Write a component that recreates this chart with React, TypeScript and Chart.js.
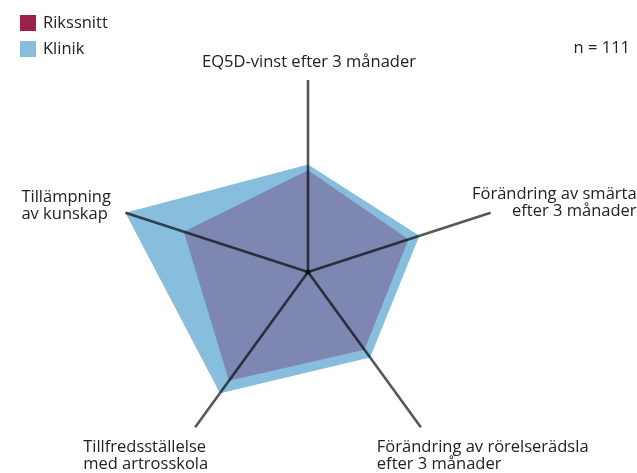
import React, { useEffect, useRef } from "react";
import { Chart, registerables } from "chart.js";

Chart.register(...registerables);

const axisLabels: string[][] = [
  ["EQ5D-vinst efter 3 månader"],
  ["Förändring av smärta", "efter 3 månader"],
  ["Förändring av rörelserädsla", "efter 3 månader"],
  ["Tillfredsställelse", "med artrosskola"],
  ["Tillämpning", "av kunskap"],
];
const seriesNames = ["Rikssnitt", "Klinik"];
const rikssnitt = [53, 55, 50, 70, 68];
const klinik = [56, 61, 55, 78, 100];
const nText = "n = 111";

const FONT = '16.5px "Open Sans", sans-serif';
const TEXT_COLOR = "#222222";
const LEGEND_COLORS = ["#9b234b", "#87bede"];

// label placement relative to each axis end: [dx, dy, align]
const labelPlacement: [number, number, CanvasTextAlign][] = [
  [1, -18, "center"],
  [146, -18, "right"],
  [-44, 20, "left"],
  [-112, 20, "left"],
  [-104, -15, "left"],
];
const LINE_H = 17;

const overlayPlugin = {
  id: "overlay",
  afterDatasetsDraw(chart: any) {
    const ctx: CanvasRenderingContext2D = chart.ctx;
    const scale = chart.scales.r;
    const R = scale.drawingArea;
    ctx.save();
    // axis lines on top of the areas
    ctx.strokeStyle = "rgba(0,0,0,0.66)";
    ctx.lineWidth = 2.6;
    ctx.lineCap = "butt";
    for (let i = 0; i < axisLabels.length; i++) {
      const p = scale.getPointPosition(i, R);
      ctx.beginPath();
      ctx.moveTo(scale.xCenter, scale.yCenter);
      ctx.lineTo(p.x, p.y);
      ctx.stroke();
    }
    ctx.fillStyle = "#111";
    ctx.beginPath();
    ctx.arc(scale.xCenter, scale.yCenter, 2.5, 0, Math.PI * 2);
    ctx.fill();

    // axis labels
    ctx.font = FONT;
    ctx.fillStyle = TEXT_COLOR;
    ctx.textBaseline = "middle";
    axisLabels.forEach((lines, i) => {
      const p = scale.getPointPosition(i, R);
      const [dx, dy, align] = labelPlacement[i];
      ctx.textAlign = align;
      lines.forEach((line, j) => {
        ctx.fillText(line, p.x + dx, p.y + dy + j * LINE_H);
      });
    });

    // legend
    ctx.textAlign = "left";
    seriesNames.forEach((name, i) => {
      const y = 15 + i * 26;
      ctx.fillStyle = LEGEND_COLORS[i];
      ctx.fillRect(20, y, 16, 16);
      ctx.fillStyle = TEXT_COLOR;
      ctx.fillText(name, 43, y + 8.5);
    });

    // n
    ctx.textAlign = "right";
    ctx.fillText(nText, 630, 48);
    ctx.restore();
  },
};

export default function App() {
  const ref = useRef<HTMLCanvasElement | null>(null);
  useEffect(() => {
    if (!ref.current) return;
    const chart = new Chart(ref.current, {
      type: "radar",
      data: {
        labels: axisLabels.map((l) => l.join(" ")),
        datasets: [
          {
            label: seriesNames[0],
            data: rikssnitt,
            backgroundColor: "#7d87b2",
            borderColor: "transparent",
            borderWidth: 0,
            pointRadius: 0,
            fill: true,
          },
          {
            label: seriesNames[1],
            data: klinik,
            backgroundColor: "#87bede",
            borderColor: "transparent",
            borderWidth: 0,
            pointRadius: 0,
            fill: true,
          },
        ],
      },
      options: {
        animation: false,
        responsive: true,
        maintainAspectRatio: false,
        layout: { padding: { left: 116, right: 137, top: 80, bottom: 9 } },
        plugins: { legend: { display: false }, tooltip: { enabled: false } },
        scales: {
          r: {
            min: 0,
            max: 100,
            ticks: { display: false },
            grid: { display: false },
            angleLines: { display: false },
            pointLabels: { display: false },
          },
        },
      },
      plugins: [overlayPlugin],
    });
    return () => chart.destroy();
  }, []);
  return (
    <div style={{ position: "fixed", left: 0, top: 0, width: 637, height: 473, background: "#fff" }}>
      <canvas ref={ref} />
    </div>
  );
}
